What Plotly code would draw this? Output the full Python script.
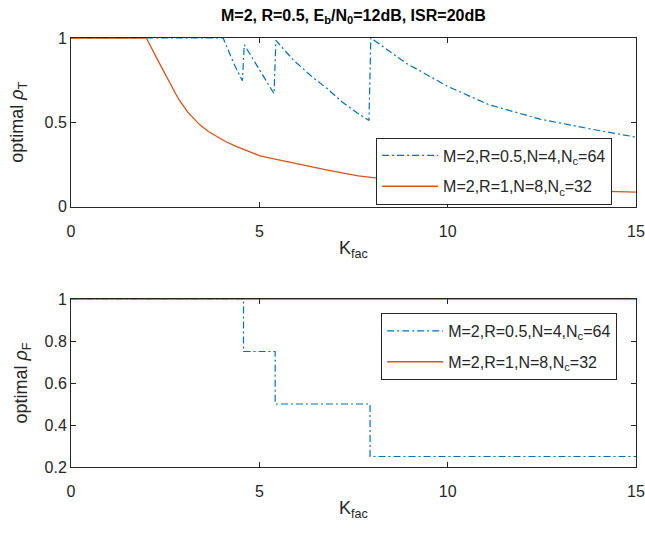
import plotly.graph_objects as go

# ---- data ----
k_blue_T = [0, 1, 2, 3, 4.04, 4.3, 4.55, 4.6, 5.0, 5.39, 5.44, 5.9, 6.4, 6.8, 7.2, 7.6, 7.91, 7.96,
            8.9, 10.0, 11.1, 12.45, 13.8, 15]
rho_blue_T = [1, 1, 1, 1, 1, 0.86, 0.746, 0.96, 0.81, 0.67, 0.986, 0.87, 0.77, 0.70, 0.62, 0.555, 0.511, 1.0,
              0.85, 0.713, 0.604, 0.519, 0.46, 0.412]

k_orange_T = [0, 1, 2, 2.3, 2.6, 2.85, 3.1, 3.42, 3.65, 3.87, 4.1, 4.4, 4.7, 5.02, 5.45, 5.9, 6.3,
              6.78, 7.2, 7.63, 8.3, 9, 10, 11, 12, 13, 14, 15]
rho_orange_T = [1, 1, 1, 0.87, 0.745, 0.64, 0.56, 0.485, 0.445, 0.416, 0.386, 0.356, 0.328, 0.301,
                0.28, 0.258, 0.24, 0.218, 0.2, 0.182, 0.165, 0.15, 0.135, 0.12, 0.11, 0.10, 0.092, 0.086]

k_blue_F = [0, 4.58, 4.58, 5.42, 5.42, 7.94, 7.94, 15]
rho_blue_F = [1, 1, 0.75, 0.75, 0.5, 0.5, 0.25, 0.25]

k_orange_F = [0, 15]
rho_orange_F = [1, 1]

x_ticks = [0, 5, 10, 15]
yT_ticks = [0, 0.5, 1]
yF_ticks = [0.2, 0.4, 0.6, 0.8, 1]
yF_ticktext = ["0.2", "0.4", "0.6", "0.8", "1"]

name_blue = "M=2,R=0.5,N=4,N<sub>c</sub>=64"
name_orange = "M=2,R=1,N=8,N<sub>c</sub>=32"
title_text = "<b>M=2, R=0.5, E<sub>b</sub>/N<sub>0</sub>=12dB, ISR=20dB</b>"

BLUE = "#0072BD"
ORANGE = "#D95319"
AX = "#262626"
FONT = "Liberation Sans, Arial, Helvetica, sans-serif"
DASHDOT = "7px,3px,2px,3px"

fig = go.Figure()
fig.add_trace(go.Scatter(x=k_blue_T, y=rho_blue_T, mode="lines", name=name_blue,
                         line=dict(color=BLUE, width=1.2, dash=DASHDOT), legendgroup="a",
                         xaxis="x", yaxis="y", legend="legend"))
fig.add_trace(go.Scatter(x=k_orange_T, y=rho_orange_T, mode="lines", name=name_orange,
                         line=dict(color=ORANGE, width=1.3), legendgroup="b",
                         xaxis="x", yaxis="y", legend="legend"))
fig.add_trace(go.Scatter(x=k_blue_F, y=rho_blue_F, mode="lines", name=name_blue,
                         line=dict(color=BLUE, width=1.2, dash=DASHDOT), legendgroup="c",
                         xaxis="x2", yaxis="y2", legend="legend2"))
fig.add_trace(go.Scatter(x=k_orange_F, y=rho_orange_F, mode="lines", name=name_orange,
                         line=dict(color=ORANGE, width=1.5), legendgroup="d",
                         xaxis="x2", yaxis="y2", legend="legend2"))

axis_common = dict(showline=True, mirror="ticks", linecolor=AX, linewidth=1, automargin=False,
                   ticks="inside", ticklen=5, tickcolor=AX, showgrid=False, zeroline=False,
                   tickfont=dict(size=16, color=AX, family=FONT))

legend_common = dict(xanchor="left", yanchor="top", bgcolor="white", itemwidth=56,
                     tracegroupgap=7, bordercolor=AX, borderwidth=1, font=dict(size=16, color=AX))

fig.update_layout(
    width=645, height=533,
    margin=dict(l=71, r=9, t=38, b=66),
    paper_bgcolor="white", plot_bgcolor="white",
    font=dict(family=FONT, color=AX),
    showlegend=True,
    xaxis=dict(domain=[0, 1], range=[0, 15], tickvals=x_ticks, anchor="y", ticklabelstandoff=10,
               title=dict(text="K<sub>fac</sub>", font=dict(size=18), standoff=2), **axis_common),
    yaxis=dict(domain=[0.607, 1.0], range=[0, 1], tickvals=yT_ticks, anchor="x",
               title=dict(text="optimal <i>ρ</i><sub>T</sub>", font=dict(size=18), standoff=16), **axis_common),
    xaxis2=dict(domain=[0, 1], range=[0, 15], tickvals=x_ticks, anchor="y2", ticklabelstandoff=10,
                title=dict(text="K<sub>fac</sub>", font=dict(size=18), standoff=2), **axis_common),
    yaxis2=dict(domain=[0, 0.3916], range=[0.2, 1], tickvals=yF_ticks, ticktext=yF_ticktext, anchor="x2",
                title=dict(text="optimal <i>ρ</i><sub>F</sub>", font=dict(size=18), standoff=12), **axis_common),
    legend=dict(x=0.540, y=0.768, **legend_common),
    legend2=dict(x=0.549, y=0.359, **legend_common),
    annotations=[dict(text=title_text, x=0.5, y=1.0, xref="paper", yref="paper",
                      xanchor="center", yanchor="bottom", yshift=10, showarrow=False,
                      font=dict(size=16, color="black"))],
)

fig.write_html("out.html",
               config={"displayModeBar": False, "staticPlot": True},
               post_script="document.body.style.margin='0';document.body.style.overflow='hidden';")
